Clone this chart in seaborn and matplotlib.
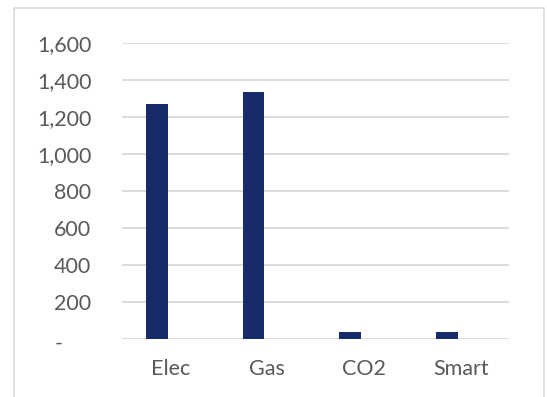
import matplotlib
matplotlib.use("Agg")
import matplotlib.pyplot as plt
import matplotlib.transforms as mtransforms
from matplotlib.patches import Rectangle
import seaborn as sns
import pandas as pd

categories = ["Elec", "Gas", "CO2", "Smart"]
values = [1268, 1334, 40, 40]
y_ticks = [0, 200, 400, 600, 800, 1000, 1200, 1400, 1600]

sns.set_theme(style="white")
plt.rcParams["font.family"] = ["Lato", "DejaVu Sans"]

TEXT = "#595959"
GRID = "#d9d9d9"
BAR = "#172b6b"

df = pd.DataFrame({"category": categories, "value": values})

fig = plt.figure(figsize=(5.47, 3.97), dpi=100)
ax = fig.add_axes([122 / 547, 1 - 339.3 / 397, (509 - 122) / 547, (339.3 - 42.7) / 397])

sns.barplot(data=df, x="category", y="value", color=BAR, width=0.224,
            saturation=1, edgecolor=BAR, linewidth=0, ax=ax)

# bars sit left of the category centre, as in a clustered layout
shift = 0.14
for p in ax.patches:
    p.set_x(p.get_x() - shift)

ax.set_xlim(-0.5, len(categories) - 0.5)
ax.set_ylim(0, 1600)
ax.set_yticks(y_ticks)
ax.set_yticklabels(["-" if v == 0 else f"{v:,}" for v in y_ticks])
ax.grid(axis="y", color=GRID, linewidth=1.3)
ax.set_axisbelow(True)
for s in ax.spines.values():
    s.set_visible(False)
ax.set_xlabel("")
ax.set_ylabel("")
ax.tick_params(axis="both", length=0, labelsize=15.5, colors=TEXT)
ax.tick_params(axis="y", pad=22)
ax.tick_params(axis="x", pad=14)

# the zero dash sits further left, accounting style
zero_lbl = ax.get_yticklabels()[0]
zero_lbl.set_transform(zero_lbl.get_transform() +
                       mtransforms.ScaledTranslation(-0.29, -0.02, fig.dpi_scale_trans))

# chart frame
fig.add_artist(Rectangle((14 / 547, -0.05), (544 - 14) / 547, 1 - 8 / 397 + 0.05,
                         transform=fig.transFigure, fill=False,
                         edgecolor=GRID, linewidth=1.2))

fig.savefig("out.png", dpi=100)
